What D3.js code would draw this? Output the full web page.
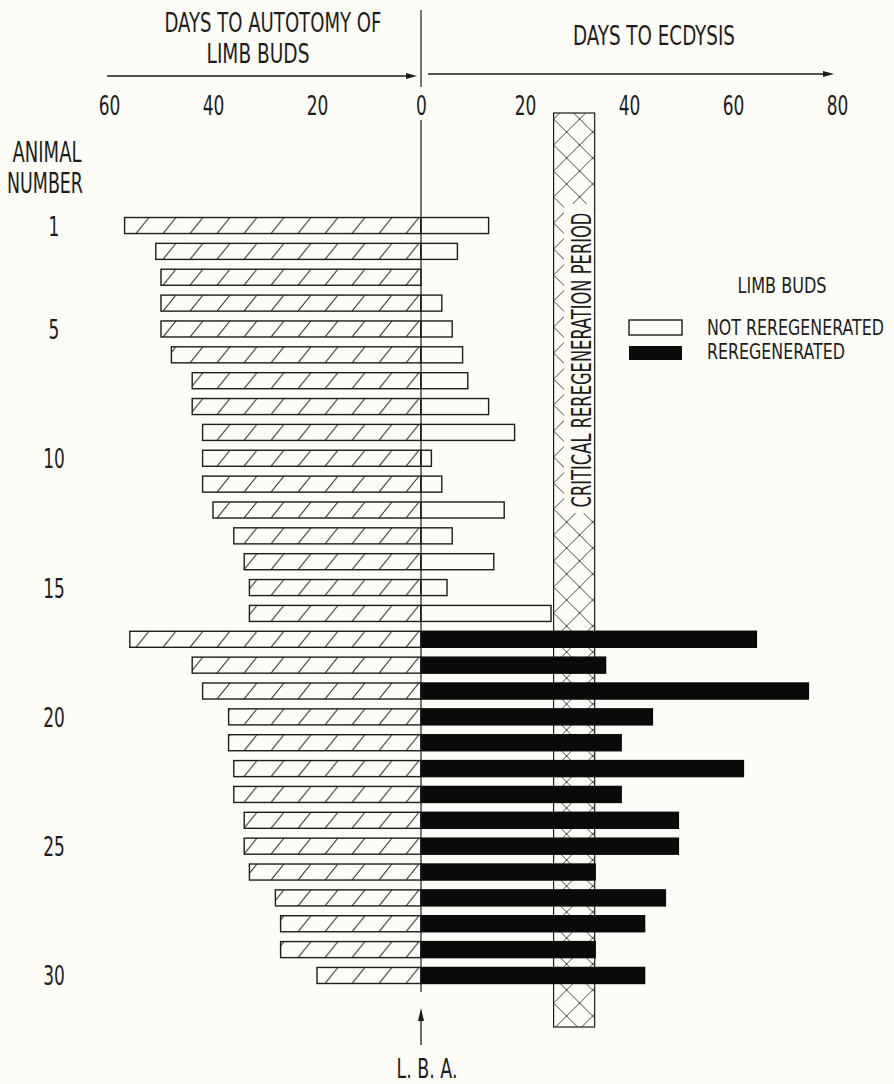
<!DOCTYPE html>
<html>
<head>
<meta charset="utf-8">
<script src="https://cdn.jsdelivr.net/npm/d3@7"></script>
<style>
  html, body { margin: 0; padding: 0; background: #fdfcf7; }
  svg { display: block; }
  text {
    font-family: "DejaVu Sans Condensed", "DejaVu Sans", sans-serif;
    fill: #1c1c1c;
  }
</style>
</head>
<body>
<svg id="chart" width="894" height="1084"></svg>
<script>
// Animal numbers (one row each)
const animals = [1, 2, 3, 4, 5, 6, 7, 8, 9, 10, 11, 12, 13, 14, 15,
                 16, 17, 18, 19, 20, 21, 22, 23, 24, 25, 26, 27, 28, 29, 30];
// Days from limb-bud autotomy to limb-bud appearance (drawn to the left of L.B.A.)
const autotomyDays = [57, 51, 50, 50, 50, 48, 44, 44, 42, 42, 42, 40, 36, 34, 33,
                      33, 56, 44, 42, 37, 37, 36, 36, 34, 34, 33, 28, 27, 27, 20];
// Days from limb-bud appearance to ecdysis (drawn to the right of L.B.A.)
const ecdysisDays = [13, 7, 0, 4, 6, 8, 9, 13, 18, 2, 4, 16, 6, 14, 5,
                     25, 64.5, 35.5, 74.5, 44.5, 38.5, 62, 38.5, 49.5, 49.5, 33.5, 47, 43, 33.5, 43];
// Whether the limb buds regenerated again
const reregenerated = [false, false, false, false, false, false, false, false, false, false,
                       false, false, false, false, false, false, true, true, true, true,
                       true, true, true, true, true, true, true, true, true, true];
// Row numbers printed beside the bars
const labeledAnimals = [1, 5, 10, 15, 20, 25, 30];
// Axis tick labels: autotomy side (left) and ecdysis side (right)
const autotomyTicks = [60, 40, 20, 0];
const ecdysisTicks = [20, 40, 60, 80];
// Critical regeneration period, days to ecdysis
const criticalPeriod = [25.5, 33.4];

const INK = "#1c1c1c";
const PAPER = "#fdfcf7";
const NARROW = 0.7;   // horizontal squeeze for numerals

const svg = d3.select("#chart");

// One horizontal scale: negative = days before limb-bud appearance
const x = d3.scaleLinear().domain([-60, 80]).range([109, 837]);
const x0 = x(0);

const y = d3.scaleBand()
  .domain(animals)
  .range([212.6, 988.4])
  .paddingInner(0.38)
  .paddingOuter(0.19);
const bw = y.bandwidth();

const defs = svg.append("defs");

// Single-slash hatch for the autotomy bars, anchored on the L.B.A. line
const hatch = defs.append("pattern")
  .attr("id", "hatch")
  .attr("patternUnits", "userSpaceOnUse")
  .attr("x", x0 - 2)
  .attr("y", y(animals[0]))
  .attr("width", 27)
  .attr("height", y.step());
hatch.append("rect").attr("width", 27).attr("height", y.step()).attr("fill", PAPER);
hatch.append("path")
  .attr("d", `M14,${bw} L27,0 M-13,${bw} L0,0`)
  .attr("stroke", "#2a2a2a").attr("stroke-width", 1).attr("fill", "none");

// Cross hatch for the critical regeneration period
const cross = defs.append("pattern")
  .attr("id", "cross")
  .attr("patternUnits", "userSpaceOnUse")
  .attr("x", x(criticalPeriod[0]))
  .attr("y", 15)
  .attr("width", 26)
  .attr("height", 26);
cross.append("rect").attr("width", 26).attr("height", 26).attr("fill", PAPER);
cross.append("path")
  .attr("d", "M0,0 L26,26 M26,0 L0,26")
  .attr("stroke", "#333").attr("stroke-width", 0.9).attr("fill", "none");

// Text squeezed horizontally to a given width (lettering is very condensed)
function label(str, px, py, size, width, anchor = "middle", rotate = 0) {
  const g = svg.append("g").attr("transform", `translate(${px},${py}) rotate(${rotate})`);
  const t = g.append("text")
    .attr("font-size", size)
    .attr("text-anchor", anchor)
    .text(str);
  if (width) {
    const w = t.node().getComputedTextLength();
    t.attr("transform", `scale(${width / w},1)`);
  }
  return t;
}

// Headings
label("DAYS TO AUTOTOMY OF", 273, 32, 26, 217);
label("LIMB BUDS", 258, 63, 27, 103);
label("DAYS TO ECDYSIS", 654, 45, 27, 162);
label("ANIMAL", 47, 162, 28, 69);
label("NUMBER", 45, 193, 28, 76);

// Direction arrows above the scale
function arrowLine(xa, xb, yy) {
  svg.append("line")
    .attr("x1", xa).attr("x2", xb - 8).attr("y1", yy).attr("y2", yy)
    .attr("stroke", INK).attr("stroke-width", 1.3);
  svg.append("path")
    .attr("d", `M${xb},${yy} L${xb - 11},${yy - 3} L${xb - 11},${yy + 3} Z`)
    .attr("fill", INK);
}
arrowLine(107, 417, 76);
arrowLine(428, 834, 74);

// Tick labels along the top
const axis = d3.axisTop(x)
  .tickValues([...autotomyTicks.map(d => -d), ...ecdysisTicks])
  .tickSize(0)
  .tickPadding(0)
  .tickFormat(d => String(Math.abs(d)));
const axisG = svg.append("g").attr("transform", "translate(0,115)").call(axis);
axisG.select(".domain").remove();
axisG.attr("font-family", null).attr("font-size", null);
axisG.selectAll("text")
  .attr("font-size", 27)
  .attr("fill", INK)
  .attr("transform", `scale(${NARROW},1)`);

// Critical regeneration period band
const boxTop = 113, boxBottom = 1027;
svg.append("rect")
  .attr("x", x(criticalPeriod[0]))
  .attr("y", boxTop)
  .attr("width", x(criticalPeriod[1]) - x(criticalPeriod[0]))
  .attr("height", boxBottom - boxTop)
  .attr("fill", "url(#cross)")
  .attr("stroke", INK).attr("stroke-width", 1.2);
svg.append("rect")
  .attr("x", 564).attr("y", 204)
  .attr("width", x(criticalPeriod[1]) - 564 - 0.8).attr("height", 309)
  .attr("fill", PAPER);
label("CRITICAL REREGENERATION PERIOD", 591, 360, 26, 295, "middle", -90);

// Bars
const rows = animals.map((a, i) => ({
  animal: a, before: autotomyDays[i], after: ecdysisDays[i], rereg: reregenerated[i]
}));

const barG = svg.append("g");
barG.selectAll("rect.before")
  .data(rows).join("rect")
  .attr("class", "before")
  .attr("x", d => x(-d.before))
  .attr("y", d => y(d.animal))
  .attr("width", d => x0 - x(-d.before))
  .attr("height", bw)
  .attr("fill", "url(#hatch)")
  .attr("stroke", INK).attr("stroke-width", 1.4);

barG.selectAll("rect.after")
  .data(rows.filter(d => d.after > 0)).join("rect")
  .attr("class", "after")
  .attr("x", x0)
  .attr("y", d => y(d.animal))
  .attr("width", d => x(d.after) - x0)
  .attr("height", bw)
  .attr("fill", d => d.rereg ? "#0a0a0a" : PAPER)
  .attr("stroke", d => d.rereg ? "#0a0a0a" : INK)
  .attr("stroke-width", 1.4);

// Row numbers
svg.append("g").selectAll("g")
  .data(labeledAnimals).join("g")
  .attr("transform", d => `translate(54,${y(d) + bw / 2 + 10})`)
  .append("text")
  .attr("text-anchor", "middle")
  .attr("font-size", 27)
  .attr("transform", `scale(${NARROW},1)`)
  .text(d => d);

// L.B.A. reference line (limb-bud appearance)
svg.append("line")
  .attr("x1", x0).attr("x2", x0).attr("y1", 10).attr("y2", 87)
  .attr("stroke", INK).attr("stroke-width", 1.2);
svg.append("line")
  .attr("x1", x0).attr("x2", x0).attr("y1", 120).attr("y2", 992)
  .attr("stroke", INK).attr("stroke-width", 1.2);
svg.append("line")
  .attr("x1", x0).attr("x2", x0).attr("y1", 1045).attr("y2", 1018)
  .attr("stroke", INK).attr("stroke-width", 1.3);
svg.append("path")
  .attr("d", `M${x0},1008 L${x0 - 3},1021 L${x0 + 3},1021 Z`)
  .attr("fill", INK);
label("L. B. A.", 427, 1078, 26, 61);

// Legend
label("LIMB BUDS", 782, 293, 22, 89);
svg.append("rect")
  .attr("x", 629).attr("y", 320).attr("width", 53).attr("height", 15)
  .attr("fill", PAPER).attr("stroke", INK).attr("stroke-width", 1.4);
svg.append("rect")
  .attr("x", 629).attr("y", 346).attr("width", 53).attr("height", 14)
  .attr("fill", "#0a0a0a");
label("NOT REREGENERATED", 707, 335, 22, 177, "start");
label("REREGENERATED", 707, 359, 22, 138, "start");
</script>
</body>
</html>
